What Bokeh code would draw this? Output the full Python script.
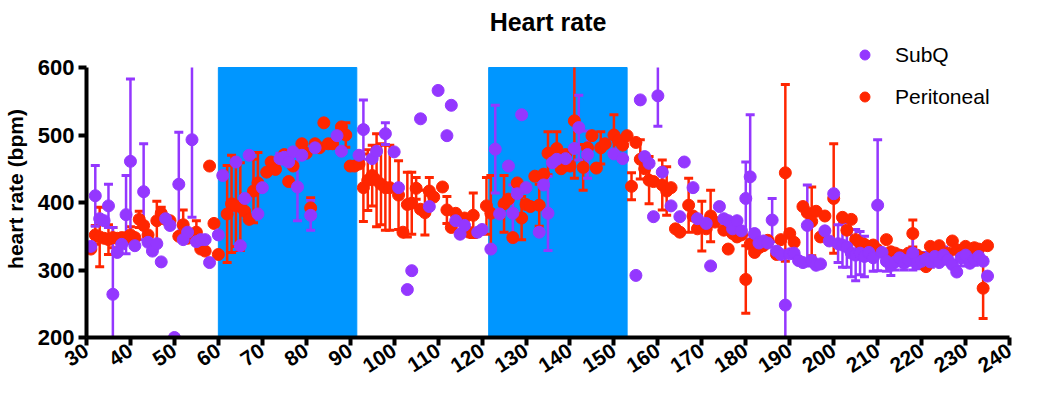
import numpy as np
from bokeh.plotting import figure
from bokeh.models import Legend, LegendItem
from bokeh.embed import file_html
from bokeh.resources import INLINE

# ---------------- data ----------------
stim_start = [60, 121.5]
stim_end = [91.5, 153]

subq_x = [31, 32, 33, 34, 35, 36, 37, 38, 39, 40, 41, 43, 44, 45, 46, 47, 48, 49, 50, 51,
          52, 53, 54, 55, 56, 57, 58, 60, 61, 64, 65, 66, 67, 69, 70, 74, 75, 76, 77, 78,
          79, 81, 82, 87, 88, 92, 93, 95, 96, 98, 100, 101, 103, 104, 106, 108, 110, 112, 113, 114,
          115, 116, 119, 120, 122, 123, 124, 126, 127, 128, 129, 130, 133, 134, 135, 136, 137, 139, 141, 142,
          144, 150, 152, 155, 156, 157, 158, 159, 160, 161, 163, 165, 166, 168, 169, 171, 172, 174, 175, 176,
          177, 178, 179, 180, 181, 182, 183, 184, 185, 186, 187, 188, 189, 190, 191, 192, 193, 194, 195, 196,
          197, 198, 199, 200, 201, 202, 203, 204, 205, 206, 207, 208, 209, 210, 211, 212, 213, 214, 215, 216,
          217, 218, 219, 220, 221, 222, 223, 224, 225, 226, 227, 228, 229, 230, 231, 232, 233, 234, 235]
subq_y = [335, 410, 376, 373, 395, 264, 326, 338, 382, 461, 336, 416, 341, 328, 339, 312, 376, 366, 200, 427,
          345, 356, 493, 342, 345, 345, 311, 352, 440, 460, 336, 406, 470, 383, 422, 465, 467, 460, 475, 423,
          470, 381, 481, 499, 476, 470, 508, 465, 476, 502, 475, 422, 271, 299, 524, 394, 566, 499, 544, 373,
          353, 366, 356, 360, 331, 479, 383, 454, 384, 413, 530, 422, 356, 426, 384, 459, 464, 465, 480, 511,
          471, 472, 465, 292, 552, 468, 458, 379, 558, 445, 395, 379, 460, 422, 376, 369, 306, 394, 376, 373,
          361, 373, 358, 406, 438, 354, 340, 343, 340, 374, 328, 323, 248, 324, 325, 314, 311, 366, 314, 307,
          309, 358, 343, 413, 339, 337, 334, 325, 322, 325, 320, 326, 318, 396, 326, 313, 307, 312, 318, 310,
          315, 325, 310, 313, 316, 312, 320, 311, 322, 315, 308, 297, 318, 322, 310, 315, 320, 313, 291]
subq_err = [0, 45, 0, 0, 32, 99, 0, 0, 58, 122, 0, 71, 0, 0, 0, 0, 0, 0, 0, 77,
            0, 0, 115, 0, 0, 0, 0, 0, 0, 0, 0, 0, 0, 0, 0, 8, 0, 0, 0, 50,
            0, 22, 0, 0, 0, 0, 44, 0, 0, 16, 0, 0, 0, 0, 0, 0, 0, 0, 0, 0,
            0, 0, 0, 0, 0, 65, 0, 0, 42, 0, 0, 0, 0, 0, 55, 0, 0, 0, 0, 48,
            35, 0, 0, 0, 0, 0, 0, 0, 45, 0, 0, 0, 0, 0, 0, 0, 0, 0, 0, 0,
            0, 0, 0, 54, 92, 0, 0, 0, 0, 32, 0, 0, 76, 0, 0, 0, 0, 60, 0, 0,
            0, 0, 0, 0, 28, 33, 30, 35, 38, 32, 30, 0, 20, 97, 0, 15, 15, 12, 10, 10,
            8, 25, 8, 0, 10, 8, 10, 0, 12, 0, 0, 0, 12, 10, 0, 8, 10, 0, 0]

perit_x = [31, 32, 33, 34, 35, 36, 37, 38, 39, 40, 41, 42, 43, 44, 46, 47, 48, 49, 51, 52,
           53, 55, 56, 57, 58, 59, 60, 62, 63, 64, 65, 66, 67, 68, 69, 71, 72, 73, 75, 76,
           77, 79, 80, 81, 82, 83, 84, 85, 86, 88, 89, 90, 91, 92, 93, 94, 95, 96, 97, 98,
           99, 101, 102, 103, 104, 105, 106, 107, 108, 109, 111, 112, 113, 114, 116, 117, 118, 121, 122, 125,
           126, 127, 128, 129, 130, 131, 132, 133, 134, 135, 137, 138, 139, 140, 141, 143, 144, 145, 146, 147,
           148, 150, 151, 152, 153, 154, 155, 156, 157, 158, 159, 161, 162, 163, 164, 165, 167, 168, 169, 170,
           171, 172, 173, 175, 176, 177, 178, 179, 180, 181, 182, 183, 184, 185, 187, 188, 189, 190, 191, 193,
           194, 195, 196, 197, 198, 200, 202, 203, 204, 205, 206, 207, 208, 209, 210, 212, 213, 214, 215, 216,
           217, 218, 219, 220, 221, 222, 223, 224, 225, 226, 227, 228, 229, 230, 231, 232, 233, 234, 235]
perit_y = [331, 352, 349, 347, 345, 348, 347, 348, 348, 352, 348, 375, 366, 352, 373, 384, 375, 373, 350, 367,
           347, 356, 331, 328, 454, 369, 323, 383, 398, 395, 394, 387, 375, 417, 429, 445, 460, 449, 471, 431,
           454, 487, 473, 392, 487, 481, 518, 487, 487, 512, 500, 454, 454, 457, 422, 433, 440, 433, 427, 422,
           422, 411, 356, 397, 399, 421, 390, 385, 417, 408, 423, 389, 363, 384, 377, 356, 381, 395, 384, 398,
           405, 348, 429, 377, 397, 394, 439, 396, 442, 473, 480, 450, 471, 454, 521, 452, 481, 499, 451, 481,
           487, 500, 492, 485, 499, 424, 489, 464, 450, 433, 431, 426, 417, 422, 361, 356, 396, 380, 361, 365,
           361, 380, 371, 359, 331, 354, 349, 352, 286, 338, 326, 333, 336, 344, 323, 345, 444, 354, 341, 394,
           385, 372, 387, 349, 380, 406, 378, 359, 375, 345, 340, 338, 335, 337, 330, 345, 327, 325, 322, 320,
           325, 354, 322, 318, 305, 335, 330, 336, 320, 325, 343, 330, 325, 335, 328, 333, 331, 273, 336]
perit_err = [0, 14, 44, 0, 22, 15, 0, 0, 0, 12, 0, 12, 0, 0, 29, 9, 0, 0, 0, 22,
             0, 17, 0, 0, 0, 0, 0, 72, 72, 60, 65, 0, 0, 47, 45, 0, 0, 0, 0, 0,
             0, 0, 0, 15, 0, 0, 0, 0, 0, 0, 18, 0, 0, 0, 50, 45, 45, 69, 60, 63,
             63, 51, 0, 48, 46, 16, 0, 33, 20, 0, 0, 20, 0, 0, 0, 0, 33, 42, 56, 42,
             0, 0, 0, 32, 0, 0, 0, 31, 0, 32, 25, 0, 0, 0, 85, 34, 0, 0, 0, 24,
             0, 30, 0, 0, 0, 20, 0, 29, 0, 35, 0, 37, 36, 0, 0, 0, 40, 0, 0, 37,
             0, 38, 0, 0, 0, 0, 0, 0, 50, 0, 0, 0, 0, 0, 0, 0, 131, 0, 0, 0,
             0, 51, 0, 0, 0, 81, 0, 0, 0, 0, 0, 0, 0, 0, 0, 0, 0, 0, 0, 0,
             0, 20, 0, 0, 0, 0, 0, 0, 0, 0, 0, 0, 0, 0, 0, 0, 0, 45, 0]

x_ticks = list(range(30, 250, 10))
y_ticks = [200, 300, 400, 500, 600]

# ---------------- styling ----------------
PURPLE = "#9437FF"
RED = "#FF2600"
BLUE = "#0096FF"
FONT = "Liberation Sans"
Y_MIN, Y_MAX = 200, 600

p = figure(width=1023, height=382, x_range=(30, 240), y_range=(200, 640),
           output_backend="svg", toolbar_location=None, title="Heart rate",
           min_border_right=14, min_border_left=82, min_border_top=4, min_border_bottom=2)
p.title.align = "center"
p.title.text_font = FONT
p.title.text_font_size = "25px"
p.title.text_font_style = "bold"
p.title.text_color = "black"
p.outline_line_color = None
p.xgrid.grid_line_color = None
p.ygrid.grid_line_color = None
p.background_fill_color = "white"
p.border_fill_color = "white"

for ax in (p.xaxis[0], p.yaxis[0]):
    ax.axis_line_width = 4
    ax.axis_line_color = "black"
    ax.major_tick_line_width = 4
    ax.major_tick_line_color = "black"
    ax.major_tick_out = 8
    ax.major_tick_in = 0
    ax.minor_tick_line_color = None
    ax.major_label_text_font = FONT
    ax.major_label_text_font_style = "bold"
    ax.major_label_text_color = "black"

p.xaxis.major_label_text_font_size = "21px"
p.yaxis.major_label_text_font_size = "22px"
p.xaxis.ticker = x_ticks
p.yaxis.ticker = y_ticks
p.yaxis.bounds = (Y_MIN, Y_MAX)
p.xaxis.major_label_orientation = 0.58
p.xaxis.major_label_standoff = 3
p.yaxis.major_label_standoff = 4
p.yaxis.axis_label = "heart rate (bpm)"
p.yaxis.axis_label_text_font = FONT
p.yaxis.axis_label_text_font_style = "bold"
p.yaxis.axis_label_text_font_size = "21px"
p.yaxis.axis_label_text_color = "black"
p.yaxis.axis_label_standoff = 8

# stimulation periods
p.quad(left=stim_start, right=stim_end, bottom=Y_MIN, top=Y_MAX,
       fill_color=BLUE, line_color=BLUE, line_width=1)


def err_parts(xs, ys, es):
    xs = np.array(xs, float); ys = np.array(ys, float); es = np.array(es, float)
    m = es > 0
    xs, ys, es = xs[m], ys[m], es[m]
    up = ys + es
    lo = ys - es
    up_c = np.minimum(up, Y_MAX)
    lo_c = np.maximum(lo, Y_MIN)
    caps_x = np.concatenate([xs[up <= Y_MAX], xs[lo >= Y_MIN]])
    caps_y = np.concatenate([up[up <= Y_MAX], lo[lo >= Y_MIN]])
    return dict(x=xs, lo=lo_c, up=up_c), dict(x=caps_x, y=caps_y)


def draw_bars(xs, ys, es, color):
    seg, caps = err_parts(xs, ys, es)
    p.segment(x0=seg["x"], y0=seg["lo"], x1=seg["x"], y1=seg["up"],
              line_color=color, line_width=2.5)
    p.scatter(x=caps["x"], y=caps["y"], marker="dash", size=9,
              line_color=color, line_width=3)


draw_bars(perit_x, perit_y, perit_err, RED)
draw_bars(subq_x, subq_y, subq_err, PURPLE)

r_per = p.scatter(x=perit_x, y=perit_y, size=12, marker="circle",
                  fill_color=RED, line_color=RED)
r_sub = p.scatter(x=subq_x, y=subq_y, size=12, marker="circle",
                  fill_color=PURPLE, line_color=PURPLE)

legend = Legend(items=[LegendItem(label="SubQ", renderers=[r_sub]),
                       LegendItem(label="Peritoneal", renderers=[r_per])],
                location=(766, 228), orientation="vertical")
legend.label_text_font = FONT
legend.label_text_font_size = "21px"
legend.label_text_color = "black"
legend.border_line_color = None
legend.background_fill_alpha = 0
legend.padding = 0
legend.margin = 0
legend.spacing = 17
legend.glyph_width = 25
legend.glyph_height = 25
legend.label_standoff = 18
legend.label_height = 25
p.add_layout(legend)

open("out.html", "w").write(file_html(p, INLINE))
